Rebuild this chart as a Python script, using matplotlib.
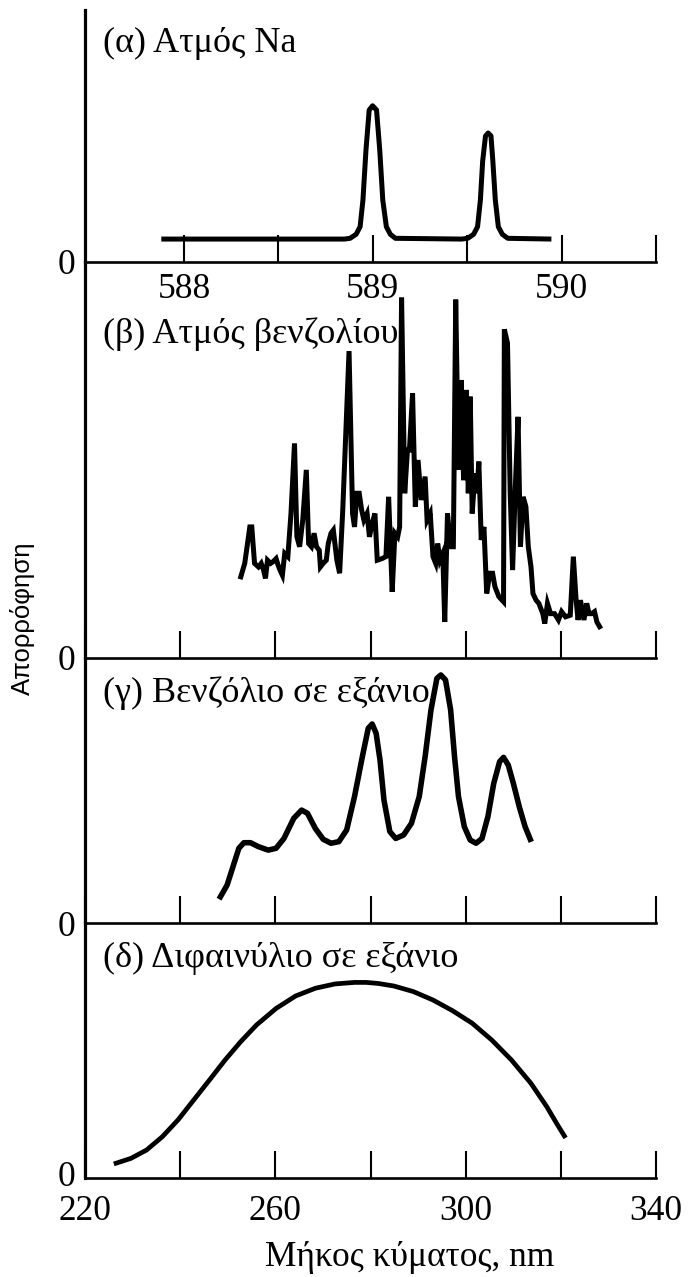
import matplotlib
matplotlib.use('Agg')
import matplotlib.pyplot as plt
from matplotlib import font_manager
from matplotlib.transforms import ScaledTranslation

# ---------------- data ----------------
# (a) Na vapour, wavelength in nm, relative absorbance
na_wl = [587.88, 588.85, 588.880, 588.912, 588.933, 588.948, 588.964, 588.981, 588.999,
         589.020, 589.037, 589.053, 589.072, 589.093, 589.120, 589.47,
         589.503, 589.534, 589.555, 589.570, 589.582, 589.597, 589.611, 589.626,
         589.636, 589.649, 589.665, 589.686, 589.715, 589.946]
na_abs = [0.091, 0.091, 0.094, 0.110, 0.140, 0.246, 0.444, 0.603, 0.620,
          0.603, 0.444, 0.246, 0.140, 0.110, 0.094, 0.091,
          0.094, 0.110, 0.140, 0.246, 0.400, 0.500, 0.512, 0.500,
          0.400, 0.246, 0.140, 0.110, 0.094, 0.091]

# (b) benzene vapour
bv_wl = [252.74, 253.57, 254.64, 255.05, 255.63, 256.45, 257.03, 257.52, 257.93, 258.35,
         259.01, 259.50, 260.16, 260.57, 260.98, 261.48, 261.97, 262.63, 263.29, 264.03,
         264.53, 265.10, 265.76, 266.51, 267.00, 267.58, 268.15, 268.65, 269.23, 269.47,
         270.05, 270.71, 271.12, 271.70, 272.19, 272.93, 273.51, 274.17, 275.49, 276.23,
         276.64, 277.14, 277.63, 278.13, 278.62, 279.28, 279.78, 280.35, 280.93, 281.42,
         282.41, 283.24, 283.81, 284.56, 285.13, 285.71, 286.12, 286.53, 287.19, 287.77,
         288.18, 288.84, 289.42, 289.99, 290.65, 291.48, 291.89, 292.55, 293.13, 293.70,
         294.12, 294.61, 295.19, 295.60, 296.18, 296.84, 297.41, 297.91, 298.49, 299.06,
         299.56, 300.13, 300.55, 300.96, 301.37, 301.95, 302.36, 302.77, 303.27, 303.84,
         304.42, 305.08, 305.66, 306.15, 306.97, 307.96, 308.13, 308.79, 309.36, 309.86,
         310.44, 311.01, 311.51, 312.08, 312.66, 313.16, 313.73, 314.14, 314.80, 315.38,
         316.21, 316.62, 317.19, 317.85, 318.68, 319.50, 320.16, 320.99, 321.98, 322.63,
         323.21, 323.62, 324.12, 324.86, 325.44, 325.93, 326.51, 327.08, 327.58, 328.16]
bv_abs = [0.205, 0.239, 0.331, 0.331, 0.239, 0.230, 0.239, 0.222, 0.201, 0.247,
          0.239, 0.243, 0.251, 0.235, 0.222, 0.209, 0.264, 0.256, 0.365, 0.542,
          0.306, 0.281, 0.348, 0.475, 0.289, 0.281, 0.315, 0.281, 0.272, 0.230,
          0.239, 0.247, 0.289, 0.315, 0.323, 0.247, 0.214, 0.374, 0.775, 0.365,
          0.331, 0.416, 0.416, 0.374, 0.348, 0.365, 0.306, 0.340, 0.365, 0.247,
          0.251, 0.256, 0.407, 0.167, 0.315, 0.306, 0.331, 0.910, 0.416, 0.525,
          0.525, 0.668, 0.382, 0.500, 0.399, 0.458, 0.348, 0.365, 0.256, 0.239,
          0.289, 0.247, 0.264, 0.091, 0.365, 0.281, 0.281, 0.905, 0.475, 0.702,
          0.449, 0.677, 0.416, 0.660, 0.365, 0.466, 0.416, 0.496, 0.298, 0.331,
          0.163, 0.214, 0.214, 0.180, 0.155, 0.142, 0.830, 0.795, 0.416, 0.222,
          0.432, 0.609, 0.281, 0.407, 0.382, 0.281, 0.230, 0.163, 0.146, 0.138,
          0.112, 0.087, 0.138, 0.112, 0.112, 0.096, 0.117, 0.104, 0.108, 0.256,
          0.146, 0.096, 0.146, 0.096, 0.138, 0.112, 0.112, 0.117, 0.091, 0.079]

# (c) benzene in hexane
bh_wl = [248.46, 249.86, 251.09, 252.33, 253.40, 254.80, 256.45, 258.51, 260.16, 261.81,
         263.87, 265.52, 266.75, 268.40, 270.05, 271.70, 273.35, 274.99, 276.64, 278.29,
         279.53, 280.35, 281.18, 282.00, 282.83, 284.06, 285.30, 286.95, 288.60, 290.24,
         291.48, 292.71, 293.95, 294.78, 295.77, 296.84, 297.66, 298.49, 299.72, 300.96,
         302.19, 303.43, 304.67, 305.90, 307.14, 307.96, 308.95, 310.02, 311.26, 312.50,
         313.57]
bh_abs = [0.099, 0.143, 0.212, 0.282, 0.303, 0.303, 0.288, 0.275, 0.282, 0.319,
          0.395, 0.426, 0.414, 0.357, 0.316, 0.301, 0.307, 0.351, 0.477, 0.628,
          0.735, 0.751, 0.716, 0.615, 0.464, 0.345, 0.319, 0.332, 0.376, 0.477,
          0.628, 0.804, 0.923, 0.936, 0.917, 0.804, 0.628, 0.477, 0.363, 0.313,
          0.301, 0.319, 0.401, 0.527, 0.609, 0.625, 0.596, 0.527, 0.439, 0.363,
          0.316]

# (d) biphenyl in hexane
bp_wl = [226.53, 229.66, 232.96, 236.26, 239.56, 242.85, 246.15, 249.45, 252.74, 256.04,
         260.16, 264.28, 268.40, 272.52, 276.64, 279.12, 281.59, 284.89, 289.01, 293.13,
         297.25, 301.37, 305.49, 309.61, 313.73, 317.03, 319.09, 320.74]
bp_abs = [0.058, 0.077, 0.110, 0.162, 0.228, 0.306, 0.384, 0.463, 0.535, 0.600,
          0.665, 0.714, 0.744, 0.761, 0.767, 0.767, 0.763, 0.753, 0.731, 0.698,
          0.656, 0.607, 0.541, 0.463, 0.371, 0.280, 0.215, 0.165]

na_ticks = [588, 588.5, 589, 589.5, 590, 590.5]
na_ticklabels = ['588', '', '589', '', '590', '']
nm_ticks = [220, 240, 260, 280, 300, 320, 340]
nm_ticklabels = ['220', '', '260', '', '300', '', '340']

titles = ['(α) Ατμός Na', '(β) Ατμός βενζολίου', '(γ) Βενζόλιο σε εξάνιο',
          '(δ) Διφαινύλιο σε εξάνιο']
ylabel = 'Απορρόφηση'
xlabel = 'Μήκος κύματος, nm'

# ---------------- style ----------------
names = {f.name for f in font_manager.fontManager.ttflist}
narrow = 'Liberation Sans Narrow' if 'Liberation Sans Narrow' in names else 'Liberation Sans'
plt.rcParams['font.family'] = ['Liberation Serif', 'DejaVu Serif']

W, H = 695, 1277
fig = plt.figure(figsize=(W / 100, H / 100), dpi=100)
fig.patch.set_facecolor('white')

FS = 25.5


def make_axes(top_px, bot_px):
    ax = fig.add_axes([85 / W, 1 - bot_px / H, 571 / W, (bot_px - top_px) / H])
    ax.patch.set_alpha(0)
    for s in ('top', 'right'):
        ax.spines[s].set_visible(False)
    ax.spines['left'].set_linewidth(2.3)
    ax.spines['bottom'].set_linewidth(1.9)
    ax.tick_params(axis='x', direction='in', length=19.5, width=1.5,
                   labelsize=FS, pad=8, color='black')
    ax.tick_params(axis='y', length=0, labelsize=FS, pad=7)
    ax.set_yticks([0])
    ax.set_yticklabels(['0'])
    ax.set_ylim(0, 1)
    return ax


axA = make_axes(10, 262)
axB = make_axes(262, 658)
axC = make_axes(658, 923)
axD = make_axes(923, 1178)

axA.plot(na_wl, na_abs, color='black', lw=3.6, solid_joinstyle='round',
         solid_capstyle='butt')
axA.set_xlim(587.476, 590.5)
axA.set_xticks(na_ticks)
axA.set_xticklabels(na_ticklabels)

axB.plot(bv_wl, bv_abs, color='black', lw=3.6, solid_joinstyle='miter')
axC.plot(bh_wl, bh_abs, color='black', lw=4.0, solid_joinstyle='round')
axD.plot(bp_wl, bp_abs, color='black', lw=3.4, solid_joinstyle='round')

for ax in (axB, axC, axD):
    ax.set_xlim(220, 340)
    ax.set_xticks(nm_ticks)
    ax.set_xticklabels(nm_ticklabels)
for ax in (axB, axC):
    ax.tick_params(axis='x', labelbottom=False)
axD.tick_params(axis='x', pad=12)
for lab in axD.get_yticklabels():
    lab.set_transform(lab.get_transform() + ScaledTranslation(0, 5 / 100, fig.dpi_scale_trans))

title_y = [43, 334, 693, 958]
for t, yp in zip(titles, title_y):
    fig.text(103 / W, 1 - yp / H, t, ha='left', va='center', fontsize=26)

fig.text(22 / W, 1 - 618 / H, ylabel, rotation=90, ha='center', va='center',
         fontsize=18.5, family=[narrow, 'DejaVu Sans'])
fig.text(410 / W, 1 - 1258 / H, xlabel, ha='center', va='center', fontsize=25.5)

fig.savefig('out.png', dpi=100, facecolor='white')
